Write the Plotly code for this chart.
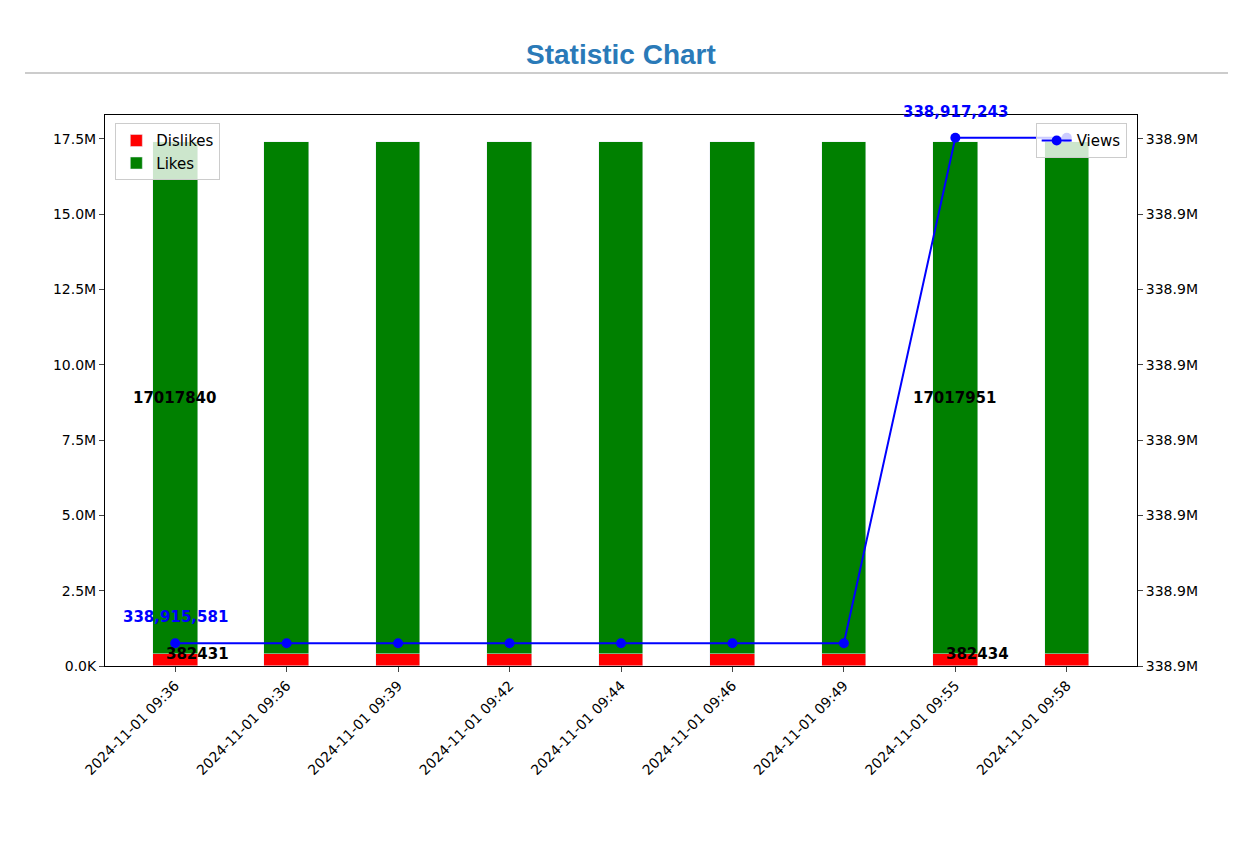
import plotly.graph_objects as go

labels = ["2024-11-01 09:36", "2024-11-01 09:36", "2024-11-01 09:39", "2024-11-01 09:42",
          "2024-11-01 09:44", "2024-11-01 09:46", "2024-11-01 09:49", "2024-11-01 09:55",
          "2024-11-01 09:58"]
dislikes = [382431, 382431, 382431, 382431, 382431, 382431, 382431, 382434, 382434]
likes = [17017840, 17017840, 17017840, 17017840, 17017840, 17017840, 17017840, 17017951, 17017951]
views = [338915581] * 7 + [338917243] * 2
label_idx = [0, 7]

x = list(range(len(labels)))
fig = go.Figure()
fig.add_bar(x=x, y=dislikes, name="Dislikes", marker_color="red", width=0.4, legend="legend")
fig.add_bar(x=x, y=likes, name="Likes", marker_color="green", width=0.4, legend="legend")
fig.add_scatter(x=x, y=views, name="Views", mode="lines+markers", yaxis="y2",
                line=dict(color="blue", width=2), marker=dict(size=10, color="blue"), legend="legend2")

for i in label_idx:
    fig.add_annotation(x=i, y=dislikes[i] + likes[i] / 2, text=f"<b>{likes[i]}</b>", showarrow=False,
                       font=dict(size=15, color="black"))
    fig.add_annotation(x=i, y=dislikes[i], text=f"<b>{dislikes[i]}</b>", showarrow=False,
                       yshift=0, xshift=22, font=dict(size=15, color="black"))
    fig.add_annotation(x=i, y=views[i], yref="y2", text=f"<b>{views[i]:,}</b>", showarrow=False,
                       yshift=26, font=dict(size=15, color="blue"))

ymax = 18.29e6
lt = [0, 2.5e6, 5e6, 7.5e6, 10e6, 12.5e6, 15e6, 17.5e6]
vmin, vmax = min(views), max(views)
pad = (vmax - vmin) * 0.045
r0, r1 = vmin - pad, vmax + pad
rt = [r0 + v / ymax * (r1 - r0) for v in lt]

fig.update_layout(
    width=1237, height=825, plot_bgcolor="white", paper_bgcolor="white",
    margin=dict(l=97, r=108, t=107, b=167), barmode="stack", bargap=0,
    font=dict(family="DejaVu Sans", size=14, color="black"),
    xaxis=dict(range=[-0.63, 8.63], tickvals=x, ticktext=labels, tickangle=-45,
               showline=True, linecolor="black", mirror=True, ticks="outside", showgrid=False,
               tickfont=dict(size=14)),
    yaxis=dict(range=[0, ymax], tickvals=lt, ticktext=["0.0K", "2.5M", "5.0M", "7.5M", "10.0M", "12.5M", "15.0M", "17.5M"],
               showline=True, linecolor="black", ticks="outside", showgrid=False, zeroline=False),
    yaxis2=dict(overlaying="y", side="right", range=[r0, r1], tickvals=rt, ticktext=["338.9M"] * len(rt),
                showline=True, linecolor="black", ticks="outside", showgrid=False, zeroline=False),
    legend=dict(x=0.01, y=0.985, xanchor="left", yanchor="top", bordercolor="#ccc", borderwidth=1,
                bgcolor="rgba(255,255,255,0.8)", font=dict(size=15), traceorder="normal"),
    legend2=dict(x=0.99, y=0.985, xanchor="right", yanchor="top", bordercolor="#ccc", borderwidth=1,
                 bgcolor="rgba(255,255,255,0.8)", font=dict(size=15)),
    showlegend=True,
)
fig.add_annotation(xref="paper", yref="paper", x=0.5, y=(666 - 37) / 551, text="<b>Statistic Chart</b>",
                   showarrow=False, font=dict(size=28, color="#2a7ab8", family="Liberation Sans"))
fig.add_shape(type="line", xref="paper", yref="paper", x0=(25 - 105) / 1032, x1=(1228 - 105) / 1032,
              y0=(666 - 73) / 551, y1=(666 - 73) / 551, line=dict(color="#999", width=1))
fig.write_html("out.html")
